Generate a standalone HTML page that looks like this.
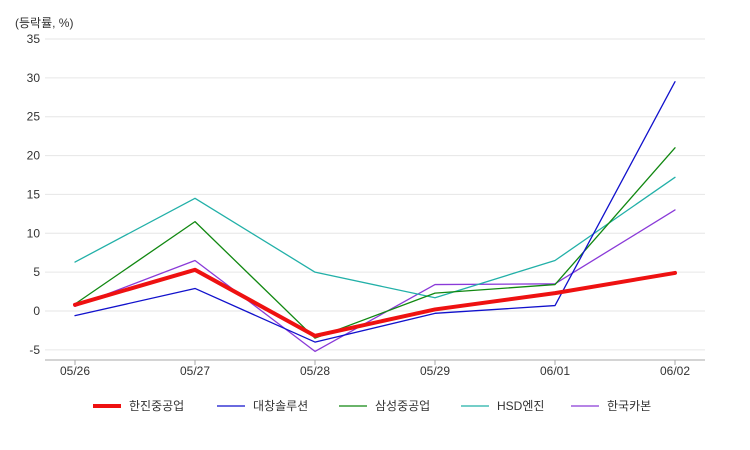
<!DOCTYPE html>
<html><head><meta charset="utf-8"><style>
body{margin:0;background:#fff;}
svg{display:block;font-family:"Liberation Sans","Noto Sans CJK KR",sans-serif;}
</style></head><body>
<svg id="chart" width="750" height="450"></svg>
<script>
const categories=["05/26","05/27","05/28","05/29","06/01","06/02"];
const yTicks=[-5,0,5,10,15,20,25,30,35];
const seriesNames=["한진중공업","대창솔루션","삼성중공업","HSD엔진","한국카본"];
const hanjin=[0.8,5.3,-3.2,0.2,2.3,4.9];
const daechang=[-0.6,2.9,-4.0,-0.3,0.7,29.5];
const samsung=[0.9,11.5,-3.5,2.3,3.4,21.0];
const hsd=[6.3,14.5,5.0,1.7,6.5,17.2];
const hankook=[0.6,6.5,-5.2,3.4,3.5,13.0];
const seriesData=[hanjin,daechang,samsung,hsd,hankook];
const colors=["#ee1111","#1111cc","#118811","#22b0a8","#8a3ad8"];
const widths=[4,1.3,1.3,1.3,1.3];
const NS="http://www.w3.org/2000/svg";
const svg=document.getElementById("chart");
const x=i=>75+i*120;
const y=v=>311-v*(311-39)/35;
function mk(t,a){const e=document.createElementNS(NS,t);for(const k in a)e.setAttribute(k,a[k]);svg.appendChild(e);return e;}
yTicks.forEach(v=>{
  const g=mk("line",{x1:45,x2:705,y1:y(v),y2:y(v),stroke:"#e6e6e6","stroke-width":1});
  
  
  const t=mk("text",{x:40,y:y(v)+4,"text-anchor":"end","font-size":12,fill:"#333"});
  t.textContent=v;
  
  
});
const ax=mk("line",{x1:45,x2:705,y1:360,y2:360,stroke:"#aaa","stroke-width":1});


categories.forEach((c,i)=>{
  const tk=mk("line",{x1:x(i),x2:x(i),y1:360,y2:365,stroke:"#aaa"});
  
  
  const t=mk("text",{x:x(i),y:375,"text-anchor":"middle","font-size":12,fill:"#333"});
  t.textContent=c;
  
  
});
const ut=mk("text",{x:15,y:27,"font-size":12,fill:"#333"});
ut.textContent="(등락률, %)";


for(let s=seriesData.length-1;s>=0;s--){
  const p=mk("polyline",{points:seriesData[s].map((v,i)=>x(i)+","+y(v)).join(" "),fill:"none",stroke:colors[s],"stroke-width":widths[s],"stroke-linejoin":"round","stroke-linecap":"round"});
  
  
}
const lx=[93,217,339,461,571];
seriesNames.forEach((n,s)=>{
  const l=mk("line",{x1:lx[s],x2:lx[s]+28,y1:406,y2:406,stroke:colors[s],"stroke-width":widths[s]});
  
  
  const t=mk("text",{x:lx[s]+36,y:410,"font-size":12,fill:"#333"});
  t.textContent=n;
  
  
});
</script>
</body></html>
